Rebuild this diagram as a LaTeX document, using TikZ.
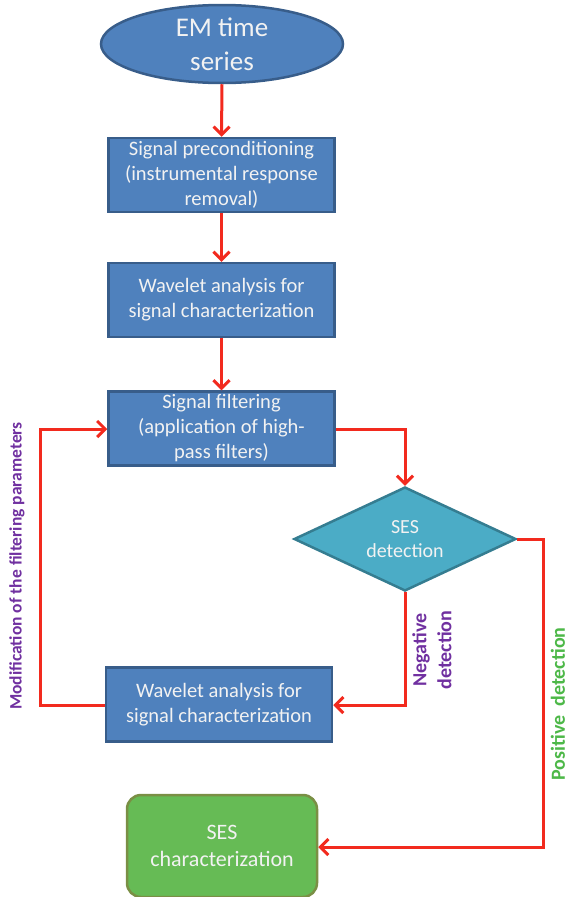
\documentclass[tikz,border=0pt]{standalone}
\usepackage{fontspec}
\setmainfont{Carlito}
\usetikzlibrary{shapes.geometric,arrows.meta}
\definecolor{boxblue}{HTML}{4F81BD}
\definecolor{boxedge}{HTML}{385D8A}
\definecolor{diafill}{HTML}{4BACC6}
\definecolor{diaedge}{HTML}{357D91}
\definecolor{grfill}{HTML}{66BB55}
\definecolor{gredge}{HTML}{7A8F45}
\definecolor{arrred}{HTML}{F22A1E}
\definecolor{purp}{HTML}{7030A0}
\definecolor{grtext}{HTML}{4DB848}
\definecolor{txtw}{HTML}{F2F2F2}
\begin{document}
\begin{tikzpicture}[x=1pt,y=-1pt,
  procbox/.style={draw=boxedge,fill=boxblue,line width=2.5pt,minimum width=226pt,minimum height=74pt,
    text=txtw,font=\fontsize{20.5}{25}\selectfont,align=center,inner sep=0pt,anchor=center},
  flow/.style={draw=arrred,line width=3pt,-{Straight Barb[length=8pt,width=16pt,line width=3pt]}},
  lab/.style={font=\bfseries,rotate=90,align=center,inner sep=0pt}]
\useasboundingbox (0,0) rectangle (571,897);
\node[ellipse,draw=boxedge,fill=boxblue,line width=2.5pt,minimum width=242pt,minimum height=78pt,inner sep=0pt,
  text=txtw,font=\fontsize{27}{34}\selectfont,align=center] (em) at (222,44) {EM time\\series};
\node[procbox] (pre) at (221.5,175) {Signal preconditioning\\(instrumental response\\removal)};
\node[procbox] (wav1) at (221.5,300) {Wavelet analysis for\\signal characterization};
\node[procbox] (filt) at (221.5,428.5) {Signal filtering\\(application of high-\\pass filters)};
\node[diamond,draw=diaedge,fill=diafill,line width=2.5pt,minimum width=222pt,minimum height=104pt,aspect=2.13,inner sep=0pt,
  text=txtw,font=\fontsize{20}{24}\selectfont,align=center] (ses) at (405,539) {SES\\detection};
\node[procbox] (wav2) at (219,704.5) {Wavelet analysis for\\signal characterization};
\node[draw=gredge,fill=grfill,line width=2.5pt,rounded corners=14pt,minimum width=190pt,minimum height=102pt,inner sep=0pt,
  text=txtw,font=\fontsize{22}{27}\selectfont,align=center] (char) at (222,846) {SES\\characterization};
\coordinate (c1) at (405,429);
\coordinate (c2) at (543,539);
\coordinate (c3) at (543,847);
\coordinate (c4) at (405,705);
\coordinate (c5) at (40,705);
\coordinate (c6) at (40,429);
\draw[flow] (em.south) -- (pre.north);
\draw[flow] (pre.south) -- (wav1.north);
\draw[flow] (wav1.south) -- (filt.north);
\draw[flow] (filt.east |- c1) -- (c1) -- (ses.north);
\draw[flow] (ses.east) -- (c2) -- (c3) -- (char.east |- c3);
\draw[flow] (ses.south) -- (c4) -- (wav2.east |- c4);
\draw[flow] (wav2.west |- c5) -- (c5) -- (c6) -- (filt.west |- c6);
\node[lab,text=purp,font=\fontsize{17.5}{20}\selectfont\bfseries] (modl) at (17,566) {Modification of the filtering parameters};
\node[lab,text=purp,font=\fontsize{20}{25}\selectfont\bfseries] (negl) at (432,650) {Negative\\detection};
\node[lab,text=grtext,font=\fontsize{20}{25}\selectfont\bfseries] (posl) at (558,704) {Positive\ \ detection};
\end{tikzpicture}
\end{document}
